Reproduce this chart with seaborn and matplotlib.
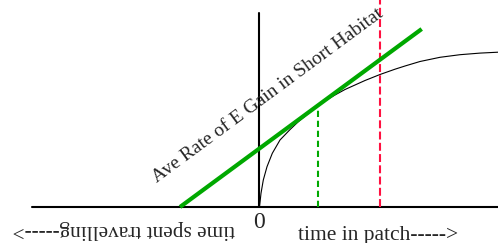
import matplotlib
matplotlib.use("Agg")
import matplotlib.pyplot as plt
import seaborn as sns

# gain curve (time in patch vs energy gained)
curve_t = [0.5, 2, 4.3, 8, 13.3, 21, 31, 39, 48.5, 58.7, 66, 76, 86, 96, 106,
           121, 136, 146, 161, 181, 201, 221, 239]
curve_e = [0, 13.7, 27, 40.3, 53.7, 67, 77.4, 85, 92.8, 101.3, 106, 112, 117.5,
           122, 126.5, 132.5, 137.8, 141, 145.5, 149.7, 152.3, 153.9, 154.8]

# average rate line
rate_t = [-79, 162.7]
rate_e = [0, 178]

# optimal leave time and a later time
opt_t = [58.7, 58.7]
opt_e = [0, 101.3]
late_t = [121, 121]
late_e = [0, 207]

axis_x_t = [-227, 239]
axis_x_e = [0, 0]
axis_y_t = [0, 0]
axis_y_e = [0, 194]

rate_label = "Ave Rate of E Gain in Short Habitat"
zero_label = "0"
patch_label = "time in patch----->"
travel_label = "time spent travelling----->"

sns.set_style("white")
plt.rcParams["font.family"] = ["Liberation Serif", "DejaVu Serif"]

fig = plt.figure(figsize=(4.98, 2.43), dpi=100)
ax = fig.add_axes([0, 0, 1, 1])

common = dict(estimator=None, sort=False, ax=ax)
sns.lineplot(x=axis_x_t, y=axis_x_e, color="black", linewidth=1.5, **common)
sns.lineplot(x=axis_y_t, y=axis_y_e, color="black", linewidth=1.5, **common)
sns.lineplot(x=curve_t, y=curve_e, color="black", linewidth=0.8, **common)
sns.lineplot(x=opt_t, y=opt_e, color="#00a800", linewidth=1.5,
             linestyle=(0, (3.0, 1.8)), **common)
sns.lineplot(x=late_t, y=late_e, color="#ff1040", linewidth=1.5,
             linestyle=(0, (3.8, 1.6)), **common)
sns.lineplot(x=rate_t, y=rate_e, color="#00a800", linewidth=3,
             solid_capstyle="butt", **common)

ax.text(-102, 24, rate_label, rotation=36.4, rotation_mode="anchor",
        ha="left", va="baseline", fontsize=14)
ax.text(0, -4.5, zero_label, ha="center", va="top", fontsize=17)
ax.text(39, -32.5, patch_label, ha="left", va="baseline", fontsize=15.5)
ax.text(-135, -22.5, travel_label, rotation=180, rotation_mode="anchor",
        ha="center", va="center", fontsize=15.3)

ax.set_xlim(-259, 239)
ax.set_ylim(-36, 207)
ax.axis("off")

fig.savefig("out.png", dpi=100)
